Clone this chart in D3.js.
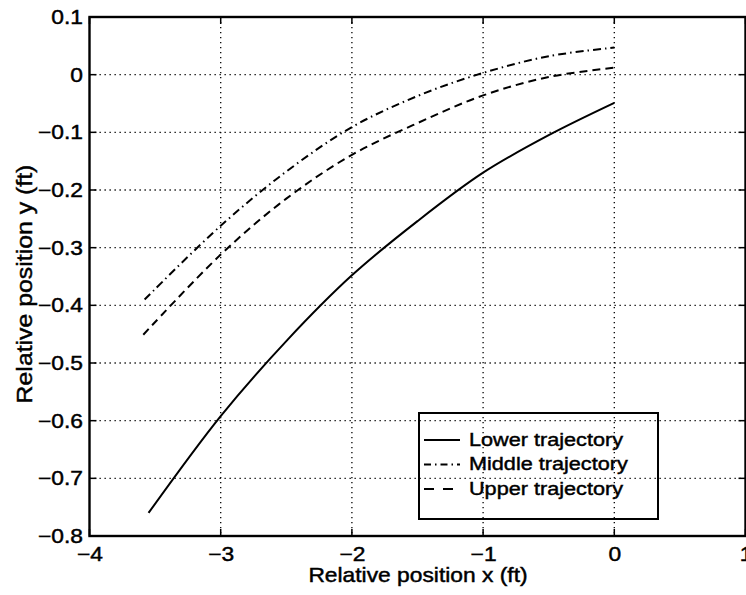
<!DOCTYPE html>
<html>
<head>
<meta charset="utf-8">
<script src="https://cdn.jsdelivr.net/npm/d3@7"></script>
<style>
  body { margin: 0; background: #fff; }
  svg { display: block; }
  text { font-family: "Liberation Sans", Arial, Helvetica, sans-serif; fill: #000; stroke: #000; stroke-width: 0.45px; }
</style>
</head>
<body>
<svg id="chart" width="746" height="595"></svg>
<script>
// Axis ticks and labels
const xTicks = [-4, -3, -2, -1, 0, 1];
const yTicks = [0.1, 0, -0.1, -0.2, -0.3, -0.4, -0.5, -0.6, -0.7, -0.8];
const xTitle = "Relative position x (ft)";
const yTitle = "Relative position y (ft)";
const seriesNames = ["Lower trajectory", "Middle trajectory", "Upper trajectory"];

// Trajectory samples (ft)
const lowerX  = [-3.55, -3.0, -2.5, -2.0, -1.5, -1.0, -0.5, 0];
const lowerY  = [-0.760, -0.592, -0.462, -0.348, -0.254, -0.170, -0.105, -0.049];
const middleX = [-3.58, -3.0, -2.5, -2.0, -1.5, -1.0, -0.5, 0];
const middleY = [-0.390, -0.262, -0.168, -0.091, -0.037, 0.003, 0.032, 0.047];
const upperX  = [-3.59, -3.0, -2.5, -2.0, -1.5, -1.0, -0.5, 0];
const upperY  = [-0.451, -0.312, -0.215, -0.139, -0.084, -0.036, -0.004, 0.012];

const dashStyles = [null, "8,4,1.5,4", "8,5"];
const legendDash = [null, "7,4,1.5,4", "10,9"];

const svg = d3.select("#chart");
svg.append("rect").attr("width", 746).attr("height", 595).attr("fill", "#fff");

const L = 89.5, R = 745.5, T = 17, B = 536;
const x = d3.scaleLinear().domain([-4, 1]).range([L, R]);
const y = d3.scaleLinear().domain([-0.8, 0.1]).range([B, T]);

const K = 1.14; // horizontal glyph stretch of the printed font
const stretch = (sel, k) => sel.each(function () {
  const t = d3.select(this);
  const tx = +t.attr("x") || 0, ty = +t.attr("y") || 0;
  t.attr("transform", `translate(${tx},${ty}) scale(${k},1) translate(${-tx},${-ty})`);
});

// Dotted grid
const grid = svg.append("g").attr("stroke", "#000").attr("stroke-width", 1.3)
  .attr("stroke-dasharray", "1.3,3.7").attr("fill", "none");
grid.selectAll(".gx").data(xTicks.filter(v => v > -4 && v < 1)).join("line")
  .attr("x1", d => x(d)).attr("x2", d => x(d)).attr("y1", T).attr("y2", B);
grid.selectAll(".gy").data(yTicks.filter(v => v > -0.8 && v < 0.1)).join("line")
  .attr("y1", d => y(d)).attr("y2", d => y(d)).attr("x1", L).attr("x2", R);

// Inward tick marks on all four sides
const tk = 7;
const ticks = svg.append("g").attr("stroke", "#000").attr("stroke-width", 1.5);
xTicks.forEach(v => {
  ticks.append("line").attr("x1", x(v)).attr("x2", x(v)).attr("y1", B).attr("y2", B - tk);
  ticks.append("line").attr("x1", x(v)).attr("x2", x(v)).attr("y1", T).attr("y2", T + tk);
});
yTicks.forEach(v => {
  ticks.append("line").attr("y1", y(v)).attr("y2", y(v)).attr("x1", L).attr("x2", L + tk);
  ticks.append("line").attr("y1", y(v)).attr("y2", y(v)).attr("x1", R).attr("x2", R - tk);
});

// Tick labels via d3 axes
const fmt = d3.format("~g");
const gx = svg.append("g").attr("transform", `translate(0,${B})`)
  .call(d3.axisBottom(x).tickValues(xTicks).tickSize(0).tickPadding(11).tickFormat(fmt));
gx.select(".domain").remove();
gx.selectAll("text").attr("font-size", 20).attr("font-family", null);
stretch(gx.selectAll("text"), K);

const gy = svg.append("g").attr("transform", `translate(${L},0)`)
  .call(d3.axisLeft(y).tickValues(yTicks).tickSize(0).tickPadding(6.5).tickFormat(fmt));
gy.select(".domain").remove();
gy.selectAll("text").attr("font-size", 20).attr("font-family", null);
stretch(gy.selectAll("text"), K);

// Axis titles
svg.append("text").attr("x", 418).attr("y", 582)
  .attr("text-anchor", "middle").attr("font-size", 20).text(xTitle)
  .call(s => stretch(s, K));
svg.append("text")
  .attr("transform", `translate(31.5,284) rotate(-90) scale(${K},1)`)
  .attr("text-anchor", "middle").attr("font-size", 21.8).text(yTitle);

// Trajectories
const line = d3.line().x(d => x(d[0])).y(d => y(d[1])).curve(d3.curveCatmullRom.alpha(0.5));
const series = [
  d3.zip(lowerX, lowerY),
  d3.zip(middleX, middleY),
  d3.zip(upperX, upperY)
];
svg.append("g").selectAll("path").data(series).join("path")
  .attr("d", line).attr("fill", "none").attr("stroke", "#000")
  .attr("stroke-width", 2)
  .attr("stroke-dasharray", (d, i) => dashStyles[i]);

// Box
svg.append("rect").attr("x", L).attr("y", T).attr("width", R - L).attr("height", B - T)
  .attr("fill", "none").attr("stroke", "#000").attr("stroke-width", 2.4);

// Legend
const lg = svg.append("g");
lg.append("rect").attr("x", 419).attr("y", 413).attr("width", 239).attr("height", 106)
  .attr("fill", "none").attr("stroke", "#000").attr("stroke-width", 2);
const rowY = [440, 464.5, 489];
seriesNames.forEach((name, i) => {
  lg.append("line").attr("x1", 424).attr("x2", 460).attr("y1", rowY[i]).attr("y2", rowY[i])
    .attr("stroke", "#000").attr("stroke-width", 1.8)
    .attr("stroke-dasharray", legendDash[i]);
  lg.append("text").attr("x", 469).attr("y", rowY[i] + 6).attr("font-size", 19).text(name)
    .call(s => stretch(s, K));
});
</script>
</body>
</html>
